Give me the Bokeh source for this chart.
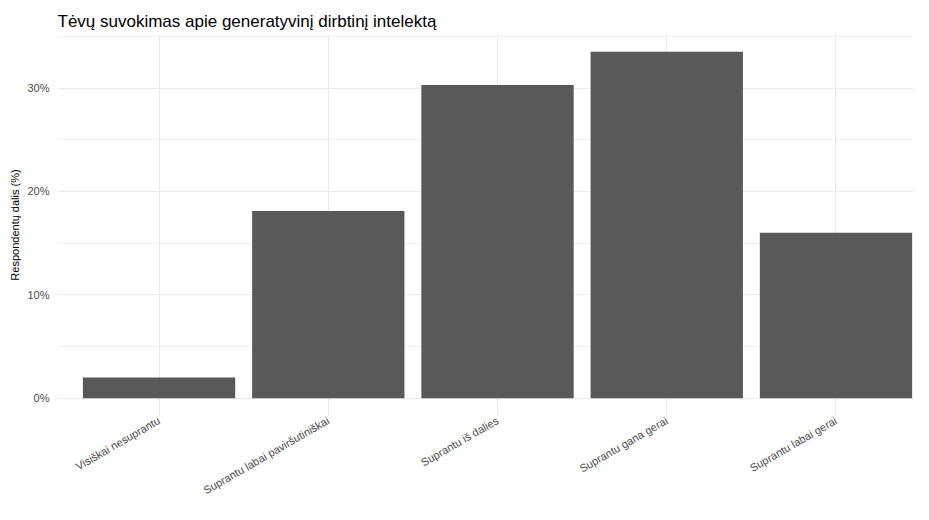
import math
from bokeh.plotting import figure
from bokeh.models import (Range1d, FixedTicker, SingleIntervalTicker,
                          PrintfTickFormatter, ColumnDataSource, Title)
from bokeh.embed import file_html
from bokeh.resources import INLINE

title_text = "Tėvų suvokimas apie generatyvinį dirbtinį intelektą"
y_label = "Respondentų dalis (%)"
categories = [
    "Visiškai nesuprantu",
    "Suprantu labai paviršutiniškai",
    "Suprantu iš dalies",
    "Suprantu gana gerai",
    "Suprantu labai gerai",
]
shares = [2.0, 18.1, 30.3, 33.5, 16.0]

positions = list(range(1, len(categories) + 1))
ymax = max(shares)
src = ColumnDataSource(dict(x=positions, top=shares))

FONT = "Liberation Sans"

p = figure(
    width=913, height=504,
    output_backend="svg", toolbar_location=None,
    x_range=Range1d(0.4, 5.458),
    y_range=Range1d(-0.05 * ymax, 1.05 * ymax),
    min_border_left=57, min_border_right=0,
    min_border_top=34, min_border_bottom=72,
    title=title_text,
)
p.outline_line_color = None
p.background_fill_color = "white"
p.border_fill_color = "white"

p.vbar(x="x", top="top", bottom=0, width=0.9, source=src,
       fill_color="#595959", line_color=None)

# title
p.title.text_font = FONT
p.title.text_font_size = "17px"
p.title.text_font_style = "normal"
p.title.text_color = "#000000"
p.title.standoff = 8

# y-axis title as a left-side title (allows shifting along the axis)
ytitle = Title(text=y_label, align="center", offset=23, standoff=8,
               text_font=FONT, text_font_size="11px",
               text_font_style="normal", text_color="#000000")
p.add_layout(ytitle, "left")

# x axis
xa = p.xaxis[0]
xa.ticker = FixedTicker(ticks=positions)
xa.major_label_overrides = {pos: c for pos, c in zip(positions, categories)}
xa.major_label_orientation = math.pi / 6
xa.major_label_text_font = FONT
xa.major_label_text_font_size = "11px"
xa.major_label_text_color = "#4d4d4d"
xa.major_label_standoff = 4
xa.axis_line_color = None
xa.major_tick_line_color = None
xa.minor_tick_line_color = None
xa.major_tick_out = 0
xa.major_tick_in = 0

# y axis
ya = p.yaxis[0]
ya.ticker = SingleIntervalTicker(interval=10, num_minor_ticks=2)
ya.formatter = PrintfTickFormatter(format="%d%%")
ya.major_label_text_font = FONT
ya.major_label_text_font_size = "11px"
ya.major_label_text_color = "#4d4d4d"
ya.major_label_standoff = 4
ya.axis_line_color = None
ya.major_tick_line_color = None
ya.minor_tick_line_color = None
ya.major_tick_out = 0
ya.major_tick_in = 0

# grids
p.xgrid.grid_line_color = "#ebebeb"
p.xgrid.grid_line_width = 1
p.ygrid.grid_line_color = "#ebebeb"
p.ygrid.grid_line_width = 1
p.ygrid.minor_grid_line_color = "#ebebeb"
p.ygrid.minor_grid_line_width = 0.7

open("out.html", "w").write(file_html(p, INLINE))
